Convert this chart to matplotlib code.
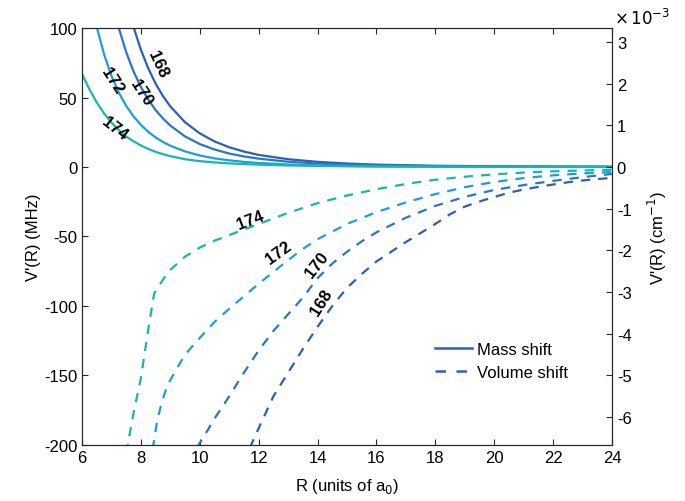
import numpy as np
import matplotlib
matplotlib.use('Agg')
import matplotlib.pyplot as plt
from matplotlib.lines import Line2D

plt.rcParams['font.family'] = ['Liberation Sans', 'DejaVu Sans']
plt.rcParams['axes.unicode_minus'] = False

# ---- data (R in units of a0, V' in MHz) ----
isotopes = ['168', '170', '172', '174']
colors = ['#2c60b4', '#2a76c6', '#1c9fd9', '#19b5b0']

# mass shift (solid)
R_mass = [6, 6.25, 6.5, 6.75, 7, 7.25, 7.5, 7.75, 8, 8.25, 8.5, 8.75, 9,
          9.5, 10, 10.5, 11, 11.5, 12, 13, 14, 15, 16, 18, 20, 22, 24]
mass_168 = [422, 336, 270, 218, 178, 146, 121, 100.7, 84.4, 71, 60, 51, 43.6,
            32.2, 24.2, 18.4, 14.2, 11.1, 8.7, 5.6, 3.7, 2.5, 1.7, 0.9, 0.5, 0.3, 0.2]
mass_170 = [288, 230, 184, 149, 122, 100, 82.7, 68.8, 57.6, 48.5, 41, 34.9, 29.8,
            22, 16.5, 12.6, 9.7, 7.6, 6.0, 3.8, 2.5, 1.7, 1.2, 0.6, 0.34, 0.2, 0.12]
mass_172 = [160.5, 126.6, 100.9, 81, 65.6, 53.5, 44, 36.4, 30.3, 25.3, 21.3, 18, 15.3,
            11.2, 8.3, 6.2, 4.8, 3.7, 2.9, 1.8, 1.2, 0.8, 0.55, 0.27, 0.15, 0.09, 0.05]
mass_174 = [67, 56, 46.5, 38.5, 32, 26.5, 22, 18.5, 15.5, 13, 10.9, 9.2, 7.8,
            5.6, 4.2, 3.3, 2.6, 2.1, 1.7, 1.1, 0.75, 0.5, 0.35, 0.18, 0.1, 0.06, 0.04]

# volume shift (dashed)
R_vol_168 = [11.7, 12, 12.5, 13, 13.5, 14, 14.5, 15, 15.5, 16, 16.5, 17, 17.5, 18,
             18.5, 19, 19.5, 20, 20.5, 21, 21.5, 22, 22.5, 23, 23.5, 24]
vol_168 = [-202, -188, -165, -148, -131, -115, -100, -87, -77, -68, -61, -54, -47.5, -41,
           -34, -28.5, -24.8, -21.6, -18.5, -16.2, -14.3, -12.6, -11, -9.7, -8.7, -7.8]
R_vol_170 = [9.9, 10.25, 10.5, 11, 11.5, 12, 12.5, 13, 13.5, 14, 14.5, 15, 15.5, 16,
             17, 18, 19, 20, 21, 22, 23, 24]
vol_170 = [-202, -190, -181, -165, -148, -132, -118, -106, -94, -80, -69.5, -61, -53.5, -47,
           -36.5, -28, -21.5, -16.5, -13, -10, -7.3, -5]
R_vol_172 = [8.4, 8.55, 8.7, 8.9, 9.25, 9.5, 10, 10.5, 11, 11.5, 12, 12.5, 13, 13.5,
             14, 15, 16, 17, 18, 19, 20, 21, 22, 23, 24]
vol_172 = [-203, -183, -170, -157, -144, -135, -123, -111.5, -102, -93, -84, -75.5, -67, -59,
           -52, -41, -32.5, -25.5, -19.5, -14.5, -10.8, -8, -6, -4.6, -3.6]
R_vol_174 = [7.5, 7.75, 8, 8.25, 8.45, 8.6, 8.8, 9, 9.5, 10, 10.5, 11, 11.5, 12, 12.5,
             13, 13.5, 14, 15, 16, 17, 18, 19, 20, 21, 22, 23, 24]
vol_174 = [-206, -177, -152, -117, -91, -86, -79.5, -74, -64.5, -58, -53, -49, -45, -41, -37,
           -33, -29.5, -26, -20.5, -16, -12.2, -9.2, -7, -5.3, -4, -3.1, -2.5, -2]

MHZ_PER_CM = 29979.2458

mass = [mass_168, mass_170, mass_172, mass_174]
vols = [(R_vol_168, vol_168), (R_vol_170, vol_170), (R_vol_172, vol_172), (R_vol_174, vol_174)]

# label placement (R, V, rotation)
mass_labels = [(8.58, 74.6, -65), (8.01, 53.7, -57), (7.04, 62.6, -57), (7.11, 28, -38)]
vol_labels = [(14.15, -97, 58), (13.98, -70, 52), (12.66, -61, 36), (11.71, -38, 21)]

fig = plt.figure(figsize=(6.85, 5.02), dpi=100)
ax = fig.add_axes([0.1197, 0.1116, 0.7737, 0.8306])

for c, m in zip(colors, mass):
    ax.plot(R_mass, m, color=c, lw=1.6, solid_capstyle='butt')
for c, (r, v) in zip(colors, vols):
    ax.plot(r, v, color=c, lw=1.6, dashes=(4.2, 3.6))

for name, (x, y, rot) in zip(isotopes, mass_labels):
    ax.text(x, y, name, rotation=rot, ha='center', va='center',
            fontsize=12, fontweight='bold', color='black')
for name, (x, y, rot) in zip(isotopes, vol_labels):
    ax.text(x, y, name, rotation=rot, ha='center', va='center',
            fontsize=12, fontweight='bold', color='black')

ax.set_xlim(6, 24)
ax.set_ylim(-200, 100)
ax.set_xticks(np.arange(6, 25, 2))
ax.set_yticks(np.arange(-200, 101, 50))
ax.set_xlabel('R (units of a$_0$)', fontsize=12, labelpad=8)
ax.set_ylabel("V'(R) (MHz)", fontsize=12, labelpad=2)
ax.tick_params(direction='in', length=4, width=0.8, labelsize=12, top=True,
               right=False, colors='#262626', labelcolor='black')

ax2 = ax.twinx()
ax2.set_ylim(-200 / MHZ_PER_CM, 100 / MHZ_PER_CM)
ax2.set_yticks(np.arange(-6, 4) * 1e-3)
ax2.set_yticklabels([str(i) for i in range(-6, 4)])
ax2.set_ylabel("V'(R) (cm$^{-1}$)", fontsize=12, labelpad=10)
ax2.tick_params(direction='in', length=4, width=0.8, labelsize=12,
                colors='#262626', labelcolor='black')
fig.text(0.897, 0.965, r'$\times\,10^{-3}$', fontsize=12, ha='left', va='center')

for a in (ax, ax2):
    for s in a.spines.values():
        s.set_color('#262626')
        s.set_linewidth(0.8)

handles = [Line2D([], [], color='#2c62b8', lw=1.8),
           Line2D([], [], color='#2c62b8', lw=1.8, dashes=(4.2, 4.2))]
ax.legend(handles, ['Mass shift', 'Volume shift'], loc='lower right',
          bbox_to_anchor=(0.945, 0.12), frameon=False, fontsize=12,
          handlelength=2.2, handletextpad=0.3, labelspacing=0.5)

fig.savefig('out.png', dpi=100)
